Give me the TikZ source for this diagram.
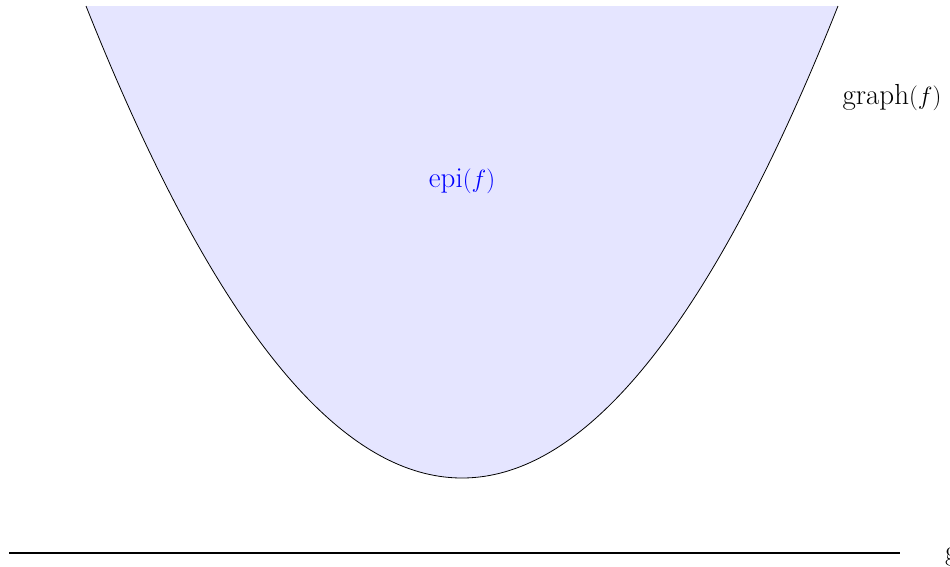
\documentclass[tikz,border=0pt]{standalone}
\begin{document}
\begin{tikzpicture}[x=1pt,y=-1pt,
  curve/.style={black,line width=0.8pt},
  axisline/.style={black,line width=1.1pt},
  lbl/.style={inner sep=0pt,font=\fontsize{29}{35}\selectfont}]
\useasboundingbox (0,0) rectangle (950,566);
\fill[blue!10] plot[domain=86:838,samples=150] (\x,{478-472*((\x-462)/376)^2}) -- cycle;
\draw[curve] plot[domain=86:838,samples=150] (\x,{478-472*((\x-462)/376)^2});
\coordinate (a) at (9,553);
\coordinate (b) at (900,553);
\draw[axisline] (a) -- (b);
\node[lbl,text=blue] (epi) at (462,181) {epi$(f)$};
\node[lbl] (graph) at (892,98) {graph$(f)$};
\node[lbl,anchor=base west] (g) at (945,560) {g};
\end{tikzpicture}
\end{document}
